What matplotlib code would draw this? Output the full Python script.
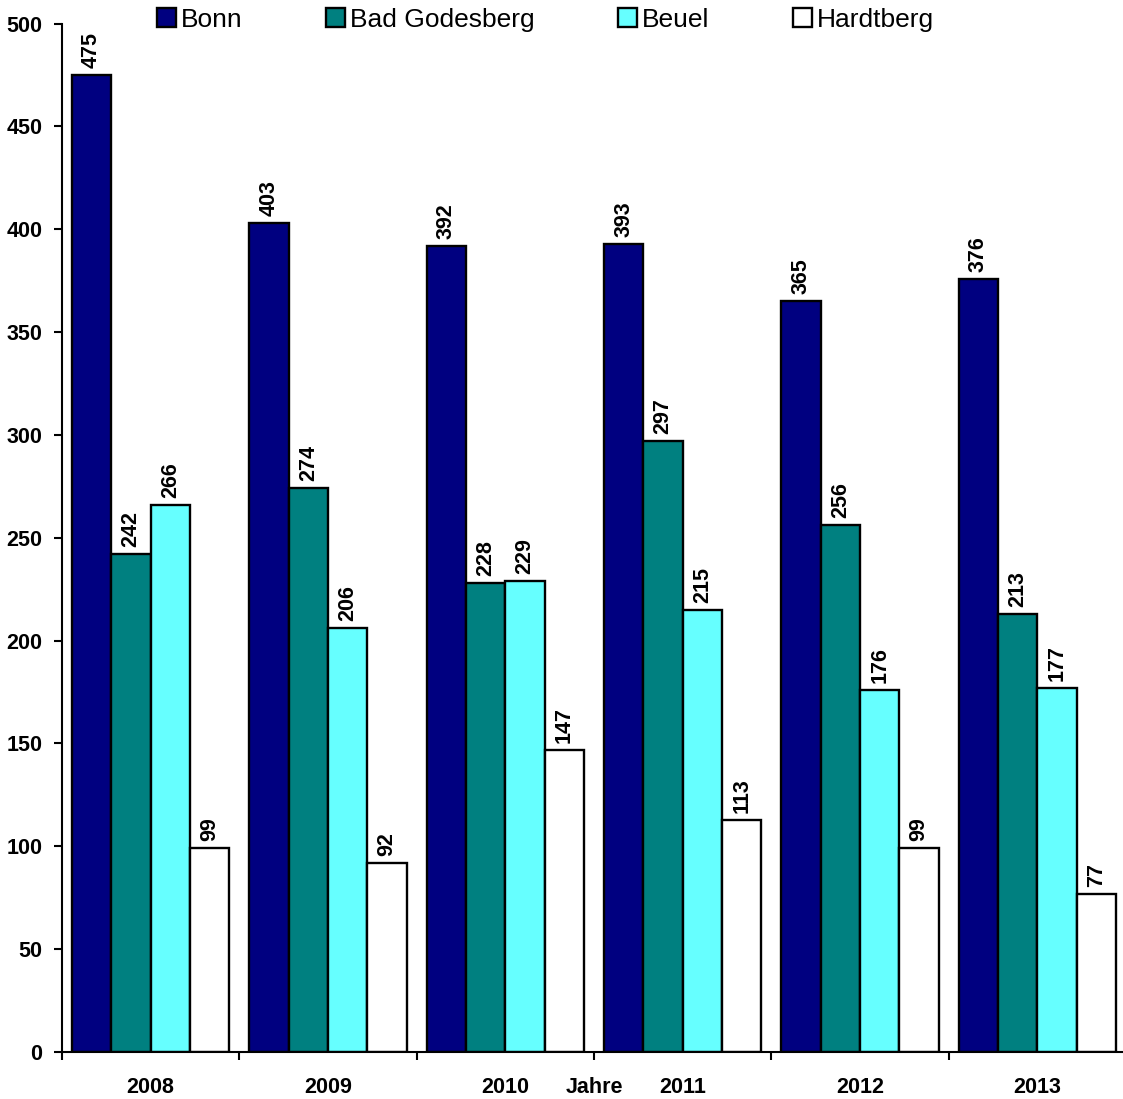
import numpy as np
import matplotlib
matplotlib.use('Agg')
import matplotlib.pyplot as plt

plt.rcParams['font.family'] = ['Liberation Sans', 'DejaVu Sans']

years = ['2008', '2009', '2010', '2011', '2012', '2013']
bonn = [475, 403, 392, 393, 365, 376]
bad_godesberg = [242, 274, 228, 297, 256, 213]
beuel = [266, 206, 229, 215, 176, 177]
hardtberg = [99, 92, 147, 113, 99, 77]

series = [('Bonn', bonn, '#000080'),
          ('Bad Godesberg', bad_godesberg, '#008080'),
          ('Beuel', beuel, '#66FFFF'),
          ('Hardtberg', hardtberg, '#FFFFFF')]

W, H = 1123, 1099
fig = plt.figure(figsize=(W / 100, H / 100), dpi=100)
ax = fig.add_axes([62 / W, 47 / H, (1126 - 62) / W, (1052 - 23.5) / H])

x = np.arange(len(years))
bw = 0.222
for i, (name, vals, col) in enumerate(series):
    pos = x + (i - 1.5) * bw
    ax.bar(pos, vals, bw, color=col, edgecolor='black', linewidth=1.7, label=name)
    for px, v in zip(pos, vals):
        ax.annotate(str(v), (px, v), xytext=(0, 5), textcoords='offset points',
                    rotation=90, ha='center', va='bottom',
                    fontsize=15.5, fontweight='bold')

ax.set_xlim(-0.5, 5.5)
ax.set_ylim(0, 500)
ax.set_yticks(np.arange(0, 501, 50))
ax.set_xticks(x)
ax.set_xticklabels(years, fontsize=15.5, fontweight='bold')
# Gruppengrenzen als kleine Striche
ax.set_xticks(np.arange(-0.5, 5.6, 1), minor=True)
ax.tick_params(axis='x', which='major', length=0, pad=18)
ax.tick_params(axis='x', which='minor', length=6, width=1.5, direction='out')
ax.tick_params(axis='y', length=6, width=1.5, direction='out', pad=8)
for lab in ax.get_yticklabels():
    lab.set_fontsize(15.5)
    lab.set_fontweight('bold')

ax.set_xlabel('Jahre', fontsize=15.5, fontweight='bold')
ax.xaxis.set_label_coords(0.5, -0.0243)

for s in ['top', 'right']:
    ax.spines[s].set_visible(False)
for s in ['left', 'bottom']:
    ax.spines[s].set_linewidth(1.5)

fig.legend(loc='center left', bbox_to_anchor=(157 / W, 1 - 20 / H), ncol=4,
           frameon=False, fontsize=19, borderpad=0, borderaxespad=0,
           handlelength=0.72, handleheight=0.72, handletextpad=0.2,
           columnspacing=3.15)

fig.savefig('out.png', dpi=100)
